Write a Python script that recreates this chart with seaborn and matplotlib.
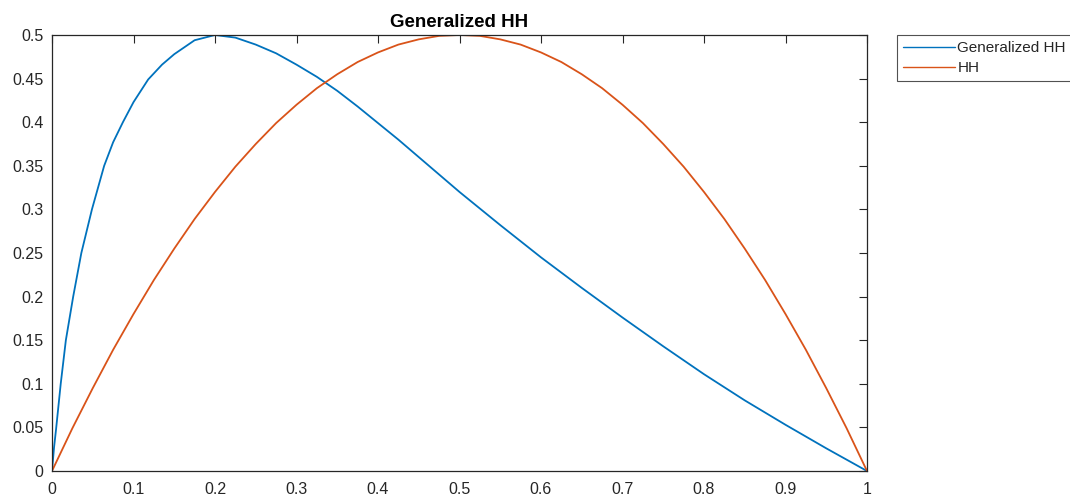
import pandas as pd
import matplotlib
matplotlib.use("Agg")
import matplotlib.pyplot as plt
import seaborn as sns

# values
gen_x = [0, 0.0025, 0.005, 0.0107, 0.017, 0.026, 0.036, 0.049, 0.064, 0.075,
         0.087, 0.1, 0.118, 0.135, 0.15, 0.175, 0.2, 0.225, 0.25, 0.275,
         0.3, 0.325, 0.35, 0.375, 0.4, 0.425, 0.45, 0.475, 0.5, 0.55,
         0.6, 0.65, 0.7, 0.75, 0.8, 0.85, 0.9, 0.95, 1.0]
gen_y = [0, 0.027, 0.048, 0.1, 0.15, 0.2, 0.25, 0.3, 0.35, 0.377,
         0.4, 0.423, 0.449, 0.466, 0.478, 0.494, 0.5, 0.497, 0.489, 0.479,
         0.466, 0.452, 0.436, 0.418, 0.399, 0.38, 0.36, 0.34, 0.32, 0.282,
         0.245, 0.21, 0.176, 0.143, 0.111, 0.081, 0.053, 0.026, 0]

hh_x = [0, 0.025, 0.05, 0.075, 0.1, 0.125, 0.15, 0.175, 0.2, 0.225, 0.25,
        0.275, 0.3, 0.325, 0.35, 0.375, 0.4, 0.425, 0.45, 0.475, 0.5,
        0.525, 0.55, 0.575, 0.6, 0.625, 0.65, 0.675, 0.7, 0.725, 0.75,
        0.775, 0.8, 0.825, 0.85, 0.875, 0.9, 0.925, 0.95, 0.975, 1.0]
hh_y = [0, 0.049, 0.095, 0.139, 0.18, 0.219, 0.255, 0.289, 0.32, 0.349, 0.375,
        0.399, 0.42, 0.439, 0.455, 0.469, 0.48, 0.489, 0.495, 0.499, 0.5,
        0.499, 0.495, 0.489, 0.48, 0.469, 0.455, 0.439, 0.42, 0.399, 0.375,
        0.349, 0.32, 0.289, 0.255, 0.219, 0.18, 0.139, 0.095, 0.049, 0]

labels = ["Generalized HH", "HH"]
colors = ["#0072BD", "#D95319"]
x_ticks = [0, 0.1, 0.2, 0.3, 0.4, 0.5, 0.6, 0.7, 0.8, 0.9, 1]
x_tick_labels = ["0", "0.1", "0.2", "0.3", "0.4", "0.5", "0.6", "0.7", "0.8", "0.9", "1"]
y_ticks = [0, 0.05, 0.1, 0.15, 0.2, 0.25, 0.3, 0.35, 0.4, 0.45, 0.5]
y_tick_labels = ["0", "0.05", "0.1", "0.15", "0.2", "0.25", "0.3", "0.35", "0.4", "0.45", "0.5"]

sns.set_style("white")
plt.rcParams["font.family"] = ["Liberation Sans", "DejaVu Sans"]

fig = plt.figure(figsize=(10.7, 5.04), dpi=100)
ax = fig.add_axes([52 / 1070, 1 - 471 / 504, 815 / 1070, 436 / 504])

sns.lineplot(x=gen_x, y=gen_y, ax=ax, color=colors[0], linewidth=1.3,
             label=labels[0], sort=False)
sns.lineplot(x=hh_x, y=hh_y, ax=ax, color=colors[1], linewidth=1.3,
             label=labels[1], sort=False)

ax.set_xlim(0, 1)
ax.set_ylim(0, 0.5)
ax.set_xticks(x_ticks)
ax.set_xticklabels(x_tick_labels)
ax.set_yticks(y_ticks)
ax.set_yticklabels(y_tick_labels)
ax.tick_params(direction="in", length=6, width=0.8, colors="#262626",
               labelsize=11.5, top=True, right=True, pad=6)
ax.tick_params(axis="x", pad=8)
for s in ax.spines.values():
    s.set_color("#262626")
    s.set_linewidth(0.9)

ax.set_title("Generalized HH", fontsize=13.5, fontweight="bold", pad=6,
             color="black")

leg = ax.legend(loc="upper left", bbox_to_anchor=(897 / 1070, 1 - 35 / 504),
                bbox_transform=fig.transFigure, borderaxespad=0,
                frameon=True, fancybox=False, fontsize=11,
                handlelength=3.4, handletextpad=0.15, borderpad=0.4,
                labelspacing=0.4)
leg.get_frame().set_edgecolor("#262626")
leg.get_frame().set_linewidth(0.8)
for t in leg.get_texts():
    t.set_color("#262626")
for h in leg.get_lines():
    h.set_linewidth(1.0)

fig.savefig("out.png", dpi=100)
